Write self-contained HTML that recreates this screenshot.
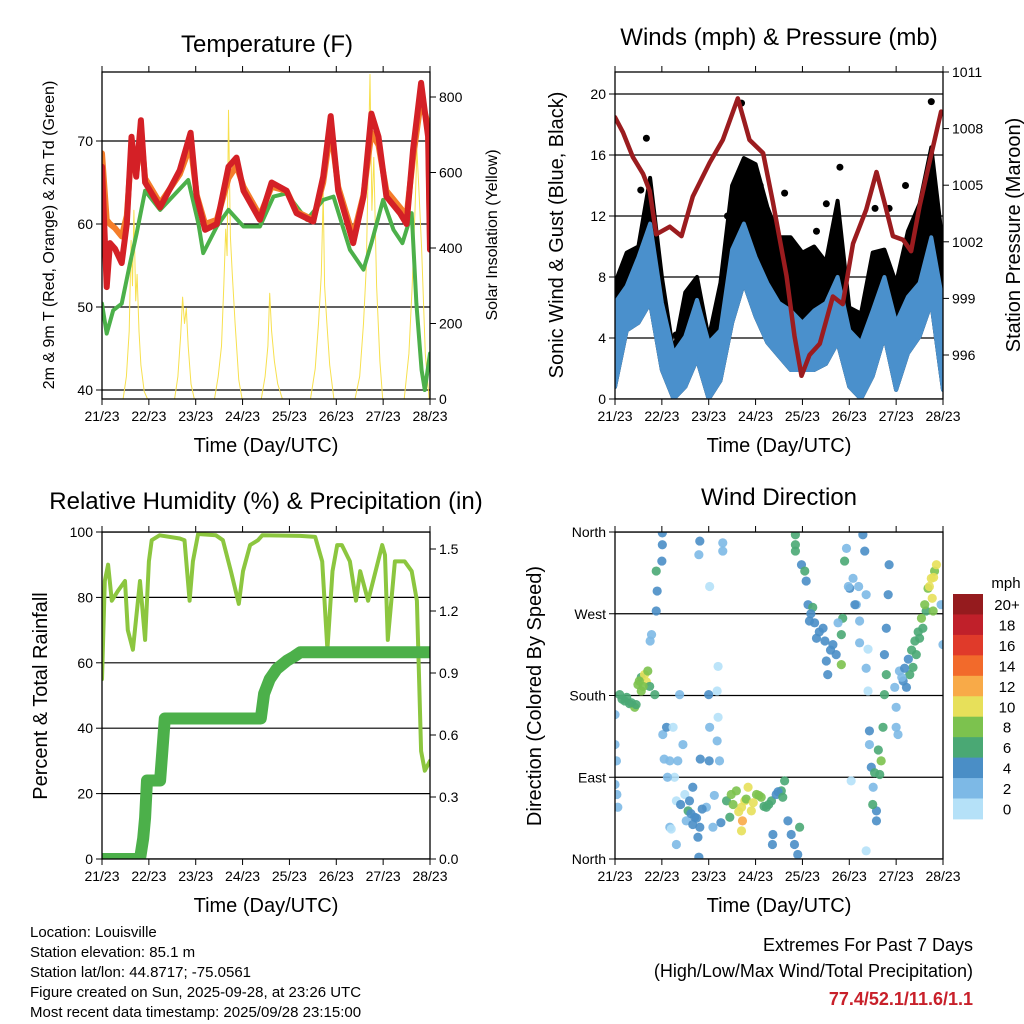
<!DOCTYPE html>
<html><head><meta charset="utf-8"><style>
html,body{margin:0;padding:0;background:#fff;}
svg{display:block;font-family:"Liberation Sans",Arial,sans-serif;}
</style></head><body>
<svg id="s" width="1024" height="1024" viewBox="0 0 1024 1024" xmlns="http://www.w3.org/2000/svg">
<rect width="1024" height="1024" fill="#fff"/>
<text x="267" y="52" font-size="24" text-anchor="middle">Temperature (F)</text>
<text x="779" y="45" font-size="24" text-anchor="middle">Winds (mph) &amp; Pressure (mb)</text>
<text x="266" y="509" font-size="24" text-anchor="middle">Relative Humidity (%) &amp; Precipitation (in)</text>
<text x="779" y="505" font-size="24" text-anchor="middle">Wind Direction</text>
<text transform="translate(54,235) rotate(-90)" font-size="16" text-anchor="middle">2m &amp; 9m T (Red, Orange) &amp; 2m Td (Green)</text>
<text transform="translate(497,235) rotate(-90)" font-size="16" text-anchor="middle">Solar Insolation (Yellow)</text>
<text transform="translate(563,235) rotate(-90)" font-size="20" text-anchor="middle">Sonic Wind &amp; Gust (Blue, Black)</text>
<text transform="translate(1020,235) rotate(-90)" font-size="20" text-anchor="middle">Station Pressure (Maroon)</text>
<text transform="translate(47,696) rotate(-90)" font-size="20" text-anchor="middle">Percent &amp; Total Rainfall</text>
<text transform="translate(541,696) rotate(-90)" font-size="20" text-anchor="middle">Direction (Colored By Speed)</text>
<text x="266" y="452" font-size="20" text-anchor="middle">Time (Day/UTC)</text>
<text x="779" y="452" font-size="20" text-anchor="middle">Time (Day/UTC)</text>
<text x="266" y="912" font-size="20" text-anchor="middle">Time (Day/UTC)</text>
<text x="779" y="912" font-size="20" text-anchor="middle">Time (Day/UTC)</text>
<g font-size="15">
<text x="30" y="937">Location: Louisville</text>
<text x="30" y="957">Station elevation: 85.1 m</text>
<text x="30" y="977">Station lat/lon: 44.8717; -75.0561</text>
<text x="30" y="997">Figure created on Sun, 2025-09-28, at 23:26 UTC</text>
<text x="30" y="1017">Most recent data timestamp: 2025/09/28 23:15:00</text>
</g>
<g text-anchor="end" font-size="18">
<text x="973" y="951">Extremes For Past 7 Days</text>
<text x="973" y="977">(High/Low/Max Wind/Total Precipitation)</text>
<text x="973" y="1005" fill="#c8202a" font-weight="bold">77.4/52.1/11.6/1.1</text>
</g>
</svg>
<script>
var dayLabels=["21/23","22/23","23/23","24/23","25/23","26/23","27/23","28/23"];
var tempTicks=[40,50,60,70];
var solarTicks=[0,200,400,600,800];
var windTicks=[0,4,8,12,16,20];
var presTicks=[996,999,1002,1005,1008,1011];
var rhTicks=[0,20,40,60,80,100];
var rainTicks=[0.0,0.3,0.6,0.9,1.2,1.5];
var dirTicks=[0,90,180,270,360];
var dirNames=["North","East","South","West","North"];
var speedBins=["0","2","4","6","8","10","12","14","16","18","20+"];
var speedColors=["#b5e1f8","#7db9e6","#4a8ec6","#4aa874","#7cc24e","#e7e05a","#f8aa48","#f26a2b","#e03a2a","#c0202a","#951b1e"];

var tT=[0,0.10,0.17,0.28,0.42,0.53,0.63,0.73,0.83,0.92,1.24,1.66,1.89,2.02,2.20,2.45,2.70,2.87,3.02,3.37,3.62,3.94,4.15,4.51,4.72,4.88,5.04,5.36,5.58,5.75,5.90,6.07,6.36,6.50,6.64,6.81,6.96,7.0];
var tRed=[66.9,52.4,57.7,57,55.3,60,70.5,65.7,72.5,65,62,66.5,71,63.3,59.3,60,66.9,68,64,60.5,65,64,61.3,60.3,65.7,73,64,57.7,63.3,73.3,70.5,63.3,61.3,60,69,77,70.5,56.9];
var tOrange=[68.5,60.5,60,59.5,58.5,61,69,66,71,65.5,62.5,66,69.5,63.5,60,60.5,65.5,67,64.5,61,64.5,64,61.5,60.5,65,71.5,64.5,58.5,63.5,71,69.5,64,62,61,68,75,72,58];
var tdT=[0,0.10,0.24,0.42,0.60,0.74,0.92,1.24,1.84,2.06,2.16,2.45,2.70,3.02,3.37,3.66,3.94,4.37,4.72,4.94,5.29,5.58,5.75,6.00,6.22,6.41,6.61,6.71,6.82,6.89,7.0];
var tdV=[50.4,46.8,49.6,50.4,55.3,58.9,64,61.7,65.3,60,56.5,59.7,61.7,59.7,59.7,63.3,63.7,60.5,62.9,63.3,56.9,54.5,57.7,62.9,59.3,57.7,61.3,50.4,42.4,40,44.4];
var solT=[0.45,0.52,0.58,0.62,0.65,0.68,0.72,0.75,0.79,0.83,0.90,0.97, 1.55,1.62,1.68,1.72,1.76,1.80,1.84,1.90,1.97, 2.40,2.48,2.55,2.60,2.64,2.67,2.70,2.74,2.78,2.84,2.92,2.99, 3.40,3.48,3.54,3.58,3.62,3.68,3.75,3.85, 4.45,4.55,4.62,4.68,4.72,4.75,4.80,4.86,4.95, 5.40,5.50,5.58,5.64,5.68,5.72,5.76,5.80,5.86,5.93,5.99, 6.45,6.55,6.62,6.68,6.72,6.76,6.82,6.90,6.98];
var solV=[0,60,180,420,300,500,260,330,180,90,20,0, 0,60,170,270,200,240,140,40,0, 0,60,140,300,450,380,765,430,330,200,50,0, 0,60,140,280,180,100,40,0, 0,80,200,330,545,300,200,90,0, 0,60,200,350,600,860,500,640,300,100,0, 0,120,300,500,660,560,400,120,0];
var wT=[0,0.25,0.5,0.75,1.0,1.25,1.5,1.75,2.0,2.25,2.5,2.75,3.0,3.25,3.5,3.75,4.0,4.25,4.5,4.75,5.0,5.25,5.5,5.75,6.0,6.25,6.5,6.75,7.0];
var windHi=[6.3,7.4,9.3,11.5,6.3,3,4.1,6.5,3.7,4.5,9.8,11.5,9.3,7.6,6.3,5.8,5,5.8,6.3,8,4.5,3.7,5.8,8,5,6.7,7.6,10.6,6.3];
var windLo=[0.8,4.5,5,6.3,1.9,0,0.8,2.6,0,1.2,5,7.6,5.4,3.7,2.8,1.9,1.9,1.9,2.3,3.7,0.8,0,1.5,4.1,0.6,3,4.1,6.3,0.6];
var gustHi=[7.6,9.6,10,14.5,8,3,7,8,4,7.6,14,15.8,15.4,12.6,10.6,10.6,9.6,10,9,13,6,5.6,9.6,9.8,7.6,11,12.8,16.5,10];
var gustT=[0.67,2.70,3.62,4.51,4.80,5.55,6.55,6.75,0.55,1.55,1.30,2.40,3.10,4.30,5.85,6.20];
var gustV=[17.1,19.4,13.5,12.8,15.2,12.5,13,19.5,13.7,6.8,4.2,12,14,11,12.5,14];
var pT=[0,0.17,0.38,0.60,0.74,0.88,1.17,1.42,1.66,2.02,2.30,2.62,2.87,3.16,3.37,3.66,3.83,3.98,4.15,4.37,4.65,4.86,5.08,5.36,5.58,5.75,5.93,6.15,6.32,6.50,6.71,6.96];
var pV=[1008.6,1007.8,1006.5,1005.6,1004.7,1002.4,1002.8,1002.3,1004.4,1006.2,1007.4,1009.6,1007.4,1006.7,1004.1,1000.2,997.0,994.9,996.0,996.6,999.1,998.7,1001.9,1003.7,1005.7,1004.1,1002.3,1002.1,1001.5,1003.9,1006.2,1008.9];
var rhT=[0,0.06,0.13,0.21,0.34,0.49,0.55,0.66,0.81,0.92,1.00,1.06,1.23,1.66,1.76,1.87,1.94,2.05,2.43,2.58,2.75,2.92,3.01,3.16,3.33,3.42,4.23,4.55,4.70,4.81,4.92,5.02,5.12,5.29,5.42,5.51,5.68,5.98,6.04,6.10,6.25,6.46,6.61,6.72,6.81,6.89,7.0];
var rhV=[55,85,90,79,82,85,70,64,85,67,91,97.5,99,98,97.5,79,91,99.4,99,97.5,88,78,88,96,97.5,99,98.8,98.5,91,64,88,96,96,91,79,88,79,96,93,67,91,91,88,79,33,27,30];
var rainT=[0,0.81,0.88,0.92,0.96,1.02,1.24,1.28,1.34,1.45,3.39,3.46,3.58,3.73,3.95,4.10,4.23,4.55,7.0];
var rainV=[0,0,0.1,0.2,0.38,0.38,0.38,0.5,0.68,0.68,0.68,0.8,0.87,0.92,0.96,0.98,1.0,1.0,1.0];
var dT=[0,0,0.03,0,0.04,0.06,0.10,0.21,0.31,0.42,0.49,0.56,0.63,0.67,0.70,0.74,0.75,0.78,0.85,0.88,0.90,0.88,1.00,1.01,1.01,1.02,1.10,1.17,1.24,1.27,1.31,1.34,1.38,1.45,1.49,1.52,1.17,1.31,1.20,1.56,1.59,1.66,1.70,1.81,1.77,1.66,1.79,1.95,1.81,1.79,1.82,2.00,2.02,2.01,2.09,2.18,2.20,2.18,2.23,2.30,2.30,2.02,2.20,2.38,2.48,2.59,2.70,2.77,2.84,2.91,3.02,3.12,3.23,3.34,3.44,3.55,3.62,2.72,2.70,2.45,3.37,3.36,3.69,3.76,3.83,3.90,3.94,3.85,3.85,3.85,3.98,4.05,4.08,4.12,4.15,4.22,4.30,4.44,4.51,4.54,4.65,4.72,4.83,4.86,4.83,4.90,4.94,5.01,5.08,5.15,5.22,5.29,5.33,5.36,5.22,5.40,5.36,5.40,5.04,5.43,5.43,5.47,5.51,5.58,5.58,5.36,5.65,5.68,5.72,5.75,5.79,5.75,5.79,5.83,5.85,5.97,6.00,6.00,6.07,6.15,6.22,6.29,6.36,6.43,6.50,6.57,6.64,6.68,6.75,6.77,6.82,6.86,6.79,6.96,7.00,6.04,0.60,0.52,0.56,
 0.15,0.25,0.35,0.45,1.05,1.12,1.40,1.62,1.74,1.86,2.12,2.26,2.52,2.64,2.80,2.95,3.07,3.18,3.28,3.48,3.58,4.18,4.26,4.36,4.48,4.60,4.76,4.98,5.12,5.20,5.50,5.54,5.62,6.12,6.18,6.26,6.33,6.40,6.47,6.54,6.61,6.71,6.80];
var dV=[159,126,108,82,71,57,181,174,171,167,192,200,203,195,207,190,240,247,181,273,295,317,328,346,359,137,145,108,145,90,64,108,181,126,71,42,35,16,33,53,64,79,46,35,24,38,2,57,350,335,110,181,145,108,35,185,156,130,108,348,339,300,212,64,71,75,57,64,79,53,71,68,57,64,71,75,86,42,31,46,27,16,42,27,16,5,35,357,346,339,324,317,306,280,262,277,243,254,218,203,236,225,247,265,214,328,342,298,309,280,262,357,339,291,238,231,210,185,86,141,126,101,79,53,42,9,93,108,145,181,203,225,254,291,324,189,167,145,207,196,189,203,211,225,243,254,273,298,309,287,317,324,273,280,236,137,190,196,185,
 176,178,172,170,110,90,60,50,45,55,70,40,60,52,66,62,70,58,60,74,68,270,260,250,240,230,260,300,280,300,60,95,120,200,210,220,230,240,250,265,280,300,310];
var dS=[2,2,2,2,2,2,6,6,6,7,7,6,10,10,8,6,2,2,6,4,4,6,4,4,4,2,4,2,0,0,0,2,2,2,0,2,2,2,0,6,4,4,4,4,4,4,4,2,4,2,4,4,2,4,2,0,0,2,2,2,2,0,0,6,8,8,10,10,10,10,8,8,6,6,4,6,6,12,10,6,4,4,4,4,4,4,6,6,6,6,4,6,4,4,4,6,4,4,4,4,4,4,6,6,8,6,2,4,2,2,2,4,4,2,2,0,2,0,0,4,2,4,2,4,4,0,6,8,6,6,6,4,4,4,4,2,2,2,2,4,4,6,6,6,6,6,6,8,10,10,8,10,8,2,2,2,8,8,8,
 6,6,6,6,2,2,4,4,4,4,2,4,8,10,8,10,8,6,6,4,6,4,4,4,4,4,2,2,4,2,6,6,6,2,4,4,6,6,6,8,8,10,10];

var NS='http://www.w3.org/2000/svg';
var svg=document.getElementById('s');
function mk(tag,a,p){var e=document.createElementNS(NS,tag);for(var k in a)e.setAttribute(k,a[k]);(p||svg).appendChild(e);return e;}
function lin(d0,d1,r0,r1){return function(v){return r0+(v-d0)*(r1-r0)/(d1-d0);};}
function pathD(xs,ys,fx,fy){var d='';for(var i=0;i<xs.length;i++)d+=(i?'L':'M')+fx(xs[i]).toFixed(1)+','+fy(ys[i]).toFixed(1);return d;}

function panel(name,x0,x1,y0,y1){
  var g=mk('g',{});
  
  
  var xs=lin(0,7,x0,x1);
  var cp=mk('clipPath',{id:name+'-clip'},g);
  mk('rect',{x:x0,y:y0,width:x1-x0,height:y1-y0},cp);
  var plot=mk('g',{'clip-path':'url(#'+name+'-clip)'},g);
  
  
  var ax=mk('g',{},g);
  
  
  for(var i=0;i<dayLabels.length;i++){
    var x=xs(i);
    mk('line',{x1:x,x2:x,y1:y1,y2:y1+6,stroke:'#000','stroke-width':1},ax);
    mk('line',{x1:x,x2:x,y1:y0,y2:y0-6,stroke:'#000','stroke-width':1},ax);
    var t=mk('text',{x:x,y:y1+22,'font-size':14,'text-anchor':'middle'},ax);
    
    
    t.textContent=dayLabels[i];
  }
  return {g:g,plot:plot,xs:xs,x0:x0,x1:x1,y0:y0,y1:y1};
}
function frame(P){
  var r=mk('rect',{x:P.x0,y:P.y0,width:P.x1-P.x0,height:P.y1-P.y0,fill:'none',stroke:'#000','stroke-width':1.3},P.g);
  
  
}
function yAxis(P,ticks,sc,side,grid,fmt,labels){
  var g=mk('g',{},P.g);
  
  
  for(var i=0;i<ticks.length;i++){
    var y=sc(ticks[i]);
    if(grid) mk('line',{x1:P.x0,x2:P.x1,y1:y,y2:y,stroke:'#000','stroke-width':1.2},P.plot);
    var x=side==='left'?P.x0:P.x1;
    var d=side==='left'?-6:6;
    mk('line',{x1:x,x2:x+d,y1:y,y2:y,stroke:'#000','stroke-width':1},g);
    var t=mk('text',{x:x+(side==='left'?-9:9),y:y+5,'font-size':14,'text-anchor':side==='left'?'end':'start'},g);
    
    
    t.textContent=labels?labels[i]:(fmt?fmt(ticks[i]):ticks[i]);
  }
}
function line(P,xs,ys,fy,color,w,name){
  var p=mk('path',{d:pathD(xs,ys,P.xs,fy),fill:'none',stroke:color,'stroke-width':w,'stroke-linejoin':'round','stroke-linecap':'round'},P.plot);
  
  
  return p;
}

// Temperature panel
var P1=panel('temperature-panel',102,430,72,399);
var ty=lin(40,70,390,141), sy=lin(0,800,399,97);
yAxis(P1,tempTicks,ty,'left',true);
yAxis(P1,solarTicks,sy,'right',false);
line(P1,solT,solV,sy,'#f7e04e',1,'solar-insolation-line');
line(P1,tdT,tdV,ty,'#4cb04a',4,'dewpoint-line');
line(P1,tT,tOrange,ty,'#f47d2a',6,'temp-9m-line');
line(P1,tT,tRed,ty,'#d42026',6,'temp-2m-line');
frame(P1);

// Winds panel
var P2=panel('winds-panel',615,943,72,399);
var wy=lin(0,20,399,94), py=lin(996,1011,355,72);
yAxis(P2,windTicks,wy,'left',true);
yAxis(P2,presTicks,py,'right',false);
var gd=pathD(wT,gustHi,P2.xs,wy);
for(var i=wT.length-1;i>=0;i--) gd+='L'+P2.xs(wT[i]).toFixed(1)+','+wy(windLo[i]).toFixed(1);
var ga=mk('path',{d:gd+'Z',fill:'#000',stroke:'#000','stroke-width':4,'stroke-linejoin':'round'},P2.plot);


for(var i=0;i<gustT.length;i++){
  var c=mk('circle',{cx:P2.xs(gustT[i]),cy:wy(gustV[i]),r:3.5,fill:'#000'},P2.plot);
  
  
}
var bd=pathD(wT,windHi,P2.xs,wy);
for(var i=wT.length-1;i>=0;i--) bd+='L'+P2.xs(wT[i]).toFixed(1)+','+wy(windLo[i]).toFixed(1);
var ba=mk('path',{d:bd+'Z',fill:'#4a90cc',stroke:'#4a90cc','stroke-width':4,'stroke-linejoin':'round'},P2.plot);


line(P2,pT,pV,py,'#9b1c1f',4.5,'pressure-line');
frame(P2);

// Humidity panel
var P3=panel('humidity-panel',102,430,532,859);
var ry=lin(0,100,859,532), rny=lin(0,1.5,859,549);
yAxis(P3,rhTicks,ry,'left',true);
yAxis(P3,rainTicks,rny,'right',false,function(v){return v.toFixed(1);});
line(P3,rhT,rhV,ry,'#8cc63f',4,'relative-humidity-line');
line(P3,rainT,rainV,rny,'#4cb04a',12,'precipitation-line');
frame(P3);

// Wind direction panel
var P4=panel('direction-panel',615,943,532,859);
var dy=lin(0,360,859,532);
yAxis(P4,dirTicks,dy,'left',true,null,dirNames);
for(var i=0;i<dT.length;i++){
  var bin=Math.min(10,Math.max(0,Math.round(dS[i]/2)));
  var c=mk('circle',{cx:P4.xs(dT[i]),cy:dy(dV[i]),r:4.6,fill:speedColors[bin],'fill-opacity':0.9},P4.plot);
  
  
}
frame(P4);

// Colorbar
var cb=mk('g',{});


var mt=mk('text',{x:1006,y:588,'font-size':15,'text-anchor':'middle'},cb);


mt.textContent='mph';
for(var i=0;i<speedBins.length;i++){
  var k=speedBins.length-1-i;
  var y=594+i*20.45;
  var r=mk('rect',{x:953,y:y,width:30,height:20.9,fill:speedColors[k]},cb);
  
  
  var t=mk('text',{x:1007,y:y+16,'font-size':15,'text-anchor':'middle'},cb);
  
  
  t.textContent=speedBins[k];
}
</script>
</body></html>
